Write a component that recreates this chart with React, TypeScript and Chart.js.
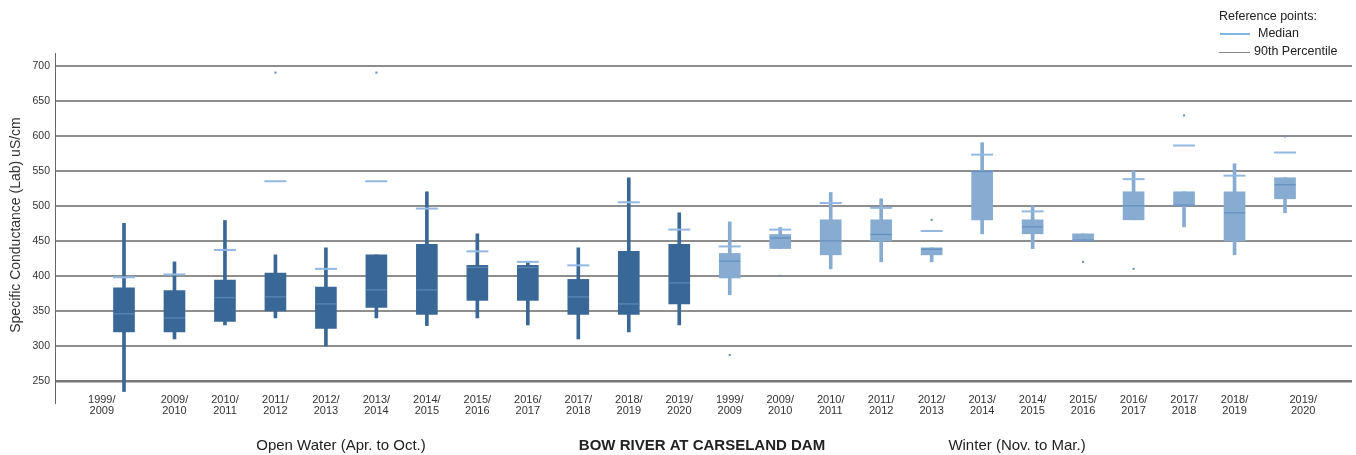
import React, { useEffect, useRef } from "react";
import { Chart, registerables } from "chart.js";

Chart.register(...registerables);

// Reporting periods (open-water season first, then winter season)
const periods = [
  "1999/2009", "2009/2010", "2010/2011", "2011/2012", "2012/2013", "2013/2014",
  "2014/2015", "2015/2016", "2016/2017", "2017/2018", "2018/2019", "2019/2020",
];
const categories = [...periods, ...periods];
const seasons = [...periods.map(() => "open"), ...periods.map(() => "winter")];

// Box-plot statistics, specific conductance (uS/cm)
const whiskerLow = [235, 310, 330, 340, 300, 340, 329, 340, 330, 310, 320, 330, 373, 439, 410, 420, 420, 460, 439, 450, 480, 470, 430, 490];
const whiskerHigh = [475, 420, 479, 430, 440, 430, 520, 460, 420, 440, 540, 490, 477, 469, 519, 510, 440, 590, 500, 460, 550, 520, 560, 540];
const boxLow = [320, 320, 335, 350, 325, 355, 345, 365, 365, 345, 345, 360, 397, 439, 430, 450, 430, 480, 460, 450, 480, 500, 450, 510];
const boxHigh = [383, 379, 394, 404, 384, 430, 445, 415, 415, 395, 435, 445, 432, 459, 480, 480, 440, 550, 480, 460, 520, 520, 520, 540];
const medians = [346, 340, 369, 370, 360, 380, 380, 412, 412, 370, 360, 390, 421, 454, 450, 459, 438, 549, 470, 451, 500, 501, 490, 530];

// Reference-period median for each period
const medianRef = [398, 402, 437, 535, 410, 535, 496, 435, 420, 415, 505, 466, 442, 466, 504, 497, 464, 573, 492, null, 538, 586, 543, 576];

// Extreme values outside the whiskers
const outlierCategory = [3, 5, 12, 13, 16, 19, 20, 21, 23];
const outlierValue = [690, 690, 287, 400, 480, 420, 410, 629, 599];

const yTicks = [250, 300, 350, 400, 450, 500, 550, 600, 650, 700];

const yTitle = "Specific Conductance (Lab) uS/cm";
const seasonTitles = ["Open Water (Apr. to Oct.)", "Winter (Nov. to Mar.)"];
const stationName = "BOW RIVER AT CARSELAND DAM";
const legendTitle = "Reference points:";
const legendItems = ["Median", "90th Percentile"];

const FONT = '"Liberation Sans", Arial, sans-serif';
const DARK = "#3a6896";
const LIGHT = "#87abd1";
const seasonColor = seasons.map((s) => (s === "open" ? DARK : LIGHT));
const medianColor = seasons.map((s) => (s === "open" ? "#5a86b4" : "#6490c0"));

const extras = {
  id: "extras",
  afterDraw(chart: any) {
    const { ctx, chartArea } = chart;
    ctx.save();
    // y axis line, running a little below the plot
    ctx.strokeStyle = "#666";
    ctx.lineWidth = 1;
    ctx.beginPath();
    ctx.moveTo(chartArea.left - 0.5, chartArea.top);
    ctx.lineTo(chartArea.left - 0.5, chartArea.bottom + 23);
    ctx.stroke();

    // y axis title
    ctx.save();
    ctx.translate(16, 225);
    ctx.rotate(-Math.PI / 2);
    ctx.font = `14px ${FONT}`;
    ctx.fillStyle = "#333";
    ctx.textAlign = "center";
    ctx.textBaseline = "middle";
    ctx.fillText(yTitle, 0, 0);
    ctx.restore();

    // footer captions
    ctx.fillStyle = "#222";
    ctx.textAlign = "center";
    ctx.textBaseline = "middle";
    ctx.font = `15px ${FONT}`;
    ctx.fillText(seasonTitles[0], 341, 446);
    ctx.fillText(seasonTitles[1], 1017, 446);
    ctx.font = `bold 15px ${FONT}`;
    ctx.fillText(stationName, 702, 446);

    // reference legend
    ctx.textAlign = "left";
    ctx.font = `12.5px ${FONT}`;
    ctx.fillStyle = "#222";
    ctx.fillText(legendTitle, 1219, 17);
    ctx.fillText(legendItems[0], 1258, 34);
    ctx.fillText(legendItems[1], 1254, 52);
    ctx.strokeStyle = "#7fb6e6";
    ctx.lineWidth = 2;
    ctx.beginPath();
    ctx.moveTo(1220, 34);
    ctx.lineTo(1250, 34);
    ctx.stroke();
    ctx.strokeStyle = "#8a8a8a";
    ctx.lineWidth = 1;
    ctx.beginPath();
    ctx.moveTo(1219, 52.5);
    ctx.lineTo(1250, 52.5);
    ctx.stroke();
    ctx.restore();
  },
};

export default function App() {
  const ref = useRef<HTMLCanvasElement | null>(null);

  useEffect(() => {
    if (!ref.current) return;
    Chart.defaults.font.family = FONT;
    const chart = new Chart(ref.current, {
      type: "bar",
      data: {
        datasets: [
          {
            type: "scatter",
            label: "outliers",
            data: outlierCategory.map((c, i) => ({ x: c, y: outlierValue[i] })),
            pointStyle: "rect",
            radius: 1.5,
            hoverRadius: 1.5,
            backgroundColor: "#6d93c3",
            borderWidth: 0,
            order: 0,
          } as any,
          {
            type: "scatter",
            label: "median reference",
            data: categories.map((_, i) => ({ x: i, y: medianRef[i] })),
            pointStyle: "line",
            radius: 11,
            hoverRadius: 11,
            borderColor: "#94b8e0",
            borderWidth: 2,
            order: 1,
          } as any,
          {
            type: "scatter",
            label: "median",
            data: categories.map((_, i) => ({ x: i, y: medians[i] })),
            pointStyle: "line",
            radius: 10.5,
            hoverRadius: 10.5,
            borderColor: medianColor,
            borderWidth: 1.3,
            order: 2,
          } as any,
          {
            type: "bar",
            label: "box",
            data: categories.map((_, i) => ({ x: i, y: [boxLow[i], boxHigh[i]] })),
            backgroundColor: seasonColor,
            borderWidth: 0,
            barThickness: 21,
            grouped: false,
            order: 3,
          } as any,
          {
            type: "bar",
            label: "whisker",
            data: categories.map((_, i) => ({ x: i, y: [whiskerLow[i], whiskerHigh[i]] })),
            backgroundColor: seasonColor,
            borderWidth: 0,
            barThickness: 3,
            grouped: false,
            clip: false,
            order: 4,
          } as any,
        ],
      },
      options: {
        responsive: false,
        animation: false,
        events: [],
        layout: { autoPadding: false, padding: { top: 53, right: 4, left: 0, bottom: 0 } },
        plugins: { legend: { display: false }, tooltip: { enabled: false } },
        scales: {
          x: {
            type: "linear",
            min: -1.347,
            max: 24.327,
            offset: false,
            grid: { display: false, offset: false },
            border: { display: false },
            afterBuildTicks: (scale: any) => {
              const last = categories.length - 1;
              scale.ticks = categories.map((_, i) => ({
                value: i + (i === 0 ? -0.44 : i === last ? 0.36 : 0),
              }));
            },
            afterFit: (scale: any) => {
              scale.height = 74;
              scale.paddingLeft = 0;
              scale.paddingRight = 0;
            },
            ticks: {
              autoSkip: false,
              maxRotation: 0,
              minRotation: 0,
              padding: 5,
              color: "#333",
              font: { size: 11, lineHeight: 1.0 },
              callback: (_v: any, index: number) => {
                const [a, b] = categories[index].split("/");
                return [a + "/", b];
              },
            },
          },
          y: {
            min: 250,
            max: 718,
            afterBuildTicks: (scale: any) => {
              scale.ticks = yTicks.map((v) => ({ value: v }));
            },
            afterFit: (scale: any) => {
              scale.width = 56;
            },
            grid: {
              drawTicks: false,
              color: (c: any) => (c.tick && c.tick.value === 250 ? "#777" : "#8e8e8e"),
              lineWidth: (c: any) => (c.tick && c.tick.value === 250 ? 2.5 : 2),
            },
            border: { display: false },
            ticks: {
              padding: 6,
              color: "#333",
              font: { size: 10.5 },
            },
          },
        },
      },
      plugins: [extras],
    });
    return () => chart.destroy();
  }, []);

  return (
    <div style={{ position: "absolute", left: 0, top: 0, width: 1356, height: 455, background: "#fff" }}>
      <canvas ref={ref} width={1356} height={455} />
    </div>
  );
}
